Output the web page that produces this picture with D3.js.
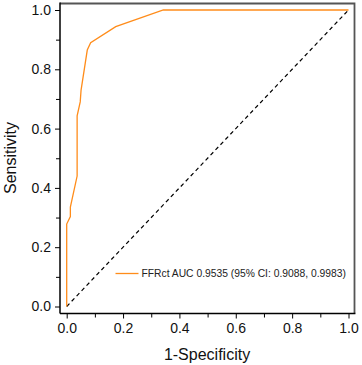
<!DOCTYPE html>
<html>
<head>
<meta charset="utf-8">
<script src="https://cdn.jsdelivr.net/npm/d3@7"></script>
<style>
body { margin: 0; background: #fff; }
text { font-family: "Liberation Sans", Arial, sans-serif; }
</style>
</head>
<body>
<div></div>
<script>
var width = 362;
var height = 365;

// ROC curve
var fpr = [0, 0, 0.013, 0.013, 0.037, 0.037, 0.048, 0.051, 0.073, 0.085, 0.174, 0.343, 1.0];
var tpr = [0, 0.278, 0.303, 0.335, 0.44, 0.643, 0.69, 0.73, 0.865, 0.89, 0.944, 1.0, 1.0];
var ticks = [0, 0.2, 0.4, 0.6, 0.8, 1.0];
var minorTicks = [0.1, 0.3, 0.5, 0.7, 0.9];
var legendLabel = "FFRct AUC 0.9535 (95% CI: 0.9088, 0.9983)";

var points = fpr.map((f, i) => ({x: f, y: tpr[i]}));

var svg = d3.select("div")
	.append("svg")
	.attr("width", width)
	.attr("height", height);

var x = d3.scaleLinear().domain([0, 1]).range([66.7, 348.5]);
var y = d3.scaleLinear().domain([0, 1]).range([306.5, 10]);

var boxLeft = 60, boxRight = 354.5, boxTop = 3.5, boxBottom = 313.5;

// top and right frame
svg.append("path")
	.attr("d", `M${boxLeft},${boxTop}H${boxRight}V${boxBottom}`)
	.attr("fill", "none")
	.attr("stroke", "#555")
	.attr("stroke-width", 1.8);

var xAxis = svg.append("g")
	.attr("transform", `translate(0,${boxBottom})`)
	.call(d3.axisBottom(x).tickValues(ticks).tickFormat(d3.format(".1f")).tickSize(5).tickPadding(5));
xAxis.append("g")
	.call(d3.axisBottom(x).tickValues(minorTicks).tickFormat("").tickSize(4));

var yAxis = svg.append("g")
	.attr("transform", `translate(${boxLeft},0)`)
	.call(d3.axisLeft(y).tickValues(ticks).tickFormat(d3.format(".1f")).tickSize(5).tickPadding(4));
yAxis.append("g")
	.call(d3.axisLeft(y).tickValues(minorTicks).tickFormat("").tickSize(4));

svg.selectAll(".domain").remove();
svg.append("line")
	.attr("x1", boxLeft).attr("x2", boxRight + 0.9)
	.attr("y1", boxBottom).attr("y2", boxBottom)
	.attr("stroke", "#000").attr("stroke-width", 1.5);
svg.append("line")
	.attr("x1", boxLeft).attr("x2", boxLeft)
	.attr("y1", boxTop - 0.9).attr("y2", boxBottom)
	.attr("stroke", "#000").attr("stroke-width", 1.5);

svg.selectAll(".tick line").attr("stroke", "#000").attr("stroke-width", 1);
svg.selectAll(".tick text")
	.attr("font-size", 14)
	.attr("fill", "#111")
	.style("font-family", "'Liberation Sans', Arial, sans-serif");

// chance line
svg.append("line")
	.attr("x1", x(0)).attr("y1", y(0))
	.attr("x2", x(1)).attr("y2", y(1))
	.attr("stroke", "#000")
	.attr("stroke-width", 1.2)
	.attr("stroke-dasharray", "4,3.2");

var line = d3.line().x(d => x(d.x)).y(d => y(d.y));

svg.append("path")
	.datum(points)
	.attr("d", line)
	.attr("fill", "none")
	.attr("stroke", "#ff8c1a")
	.attr("stroke-width", 1.3);

// legend
svg.append("line")
	.attr("x1", 115.5).attr("x2", 138.5)
	.attr("y1", 273.5).attr("y2", 273.5)
	.attr("stroke", "#ff8c1a")
	.attr("stroke-width", 1.3);
svg.append("text")
	.attr("x", 141.5)
	.attr("y", 277.3)
	.attr("font-size", 10.3)
	.attr("fill", "#222")
	.text(legendLabel);

// axis titles
svg.append("text")
	.attr("x", 207)
	.attr("y", 359.5)
	.attr("text-anchor", "middle")
	.attr("font-size", 16)
	.attr("fill", "#111")
	.text("1-Specificity");

svg.append("text")
	.attr("transform", `translate(15.5,158) rotate(-90)`)
	.attr("text-anchor", "middle")
	.attr("font-size", 16)
	.attr("fill", "#111")
	.text("Sensitivity");
</script>
</body>
</html>
